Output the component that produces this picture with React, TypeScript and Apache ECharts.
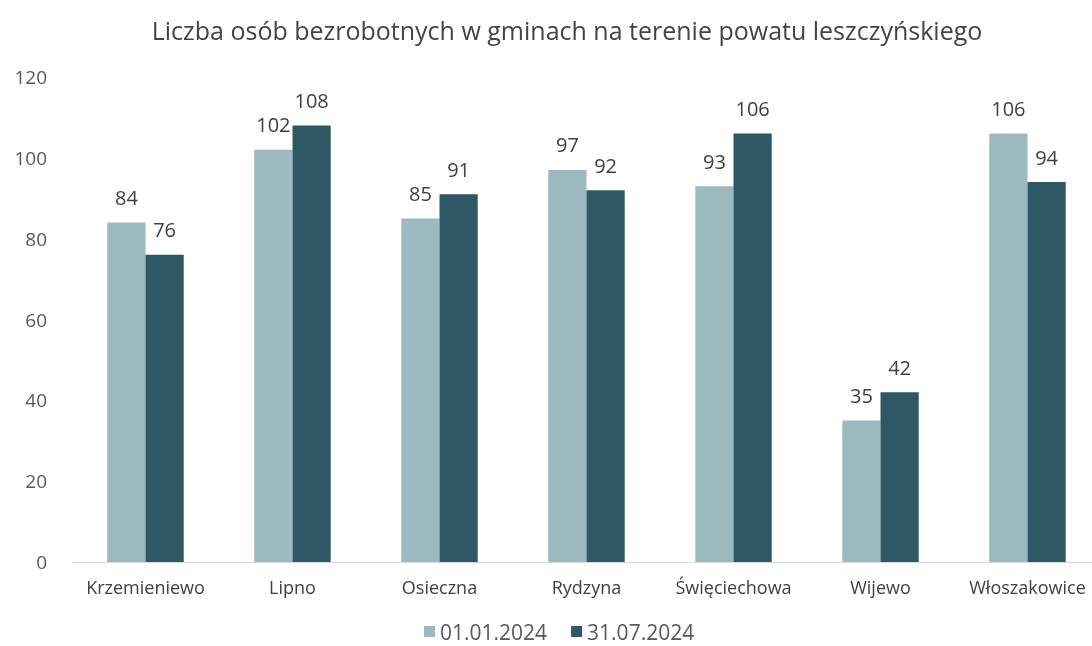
import React, { useEffect, useRef } from "react";
import * as echarts from "echarts";

const categories = ["Krzemieniewo", "Lipno", "Osieczna", "Rydzyna", "Święciechowa", "Wijewo", "Włoszakowice"];
const seriesNames = ["01.01.2024", "31.07.2024"];
const valuesJan = [84, 102, 85, 97, 93, 35, 106];
const valuesJul = [76, 108, 91, 92, 106, 42, 94];
const yTicks = { min: 0, max: 120, interval: 20 };

export default function App() {
  const ref = useRef<HTMLDivElement>(null);
  useEffect(() => {
    if (!ref.current) return;
    const chart = echarts.init(ref.current, null, { renderer: "svg" });
    const font = "'Open Sans', 'Noto Sans', sans-serif";
    const label = {
      show: true,
      position: "top" as const,
      distance: 15,
      color: "#404040",
      fontSize: 20,
      fontFamily: font,
    };
    chart.setOption({
      animation: false,
      textStyle: { fontFamily: font },
      title: {
        text: "Liczba osób bezrobotnych w gminach na terenie powatu leszczyńskiego",
        left: 562,
        textAlign: "center",
        top: 12,
        textStyle: { fontSize: 25, fontWeight: "normal", color: "#444", fontFamily: font },
      },
      legend: {
        data: seriesNames,
        top: 621,
        left: 424,
        padding: 0,
        itemWidth: 11,
        itemHeight: 11,
        itemGap: 24,
        icon: "rect",
        textStyle: { fontSize: 21, color: "#595959", fontFamily: font },
      },
      grid: { left: 72, top: 77, width: 1029, height: 485, containLabel: false, outerBoundsMode: "none" },
      xAxis: {
        type: "category",
        data: categories,
        axisLine: { lineStyle: { color: "#d9d9d9" } },
        axisTick: { show: false },
        axisLabel: { color: "#404040", fontSize: 18, margin: 16, interval: 0, hideOverlap: false, fontFamily: font },
      },
      yAxis: {
        type: "value",
        min: yTicks.min,
        max: yTicks.max,
        interval: yTicks.interval,
        splitLine: { show: false },
        axisLine: { show: false },
        axisTick: { show: false },
        axisLabel: { color: "#595959", fontSize: 19, margin: 25, fontFamily: font },
      },
      series: [
        {
          name: seriesNames[0],
          type: "bar",
          data: valuesJan,
          barGap: "0%",
          barCategoryGap: "48%",
          itemStyle: { color: "#9bb9bf" },
          label,
        },
        {
          name: seriesNames[1],
          type: "bar",
          data: valuesJul,
          itemStyle: { color: "#2f5866" },
          label,
        },
      ],
    });
    return () => chart.dispose();
  }, []);
  return <div ref={ref} style={{ position: "fixed", left: 0, top: 0, width: 1092, height: 646 }} />;
}
